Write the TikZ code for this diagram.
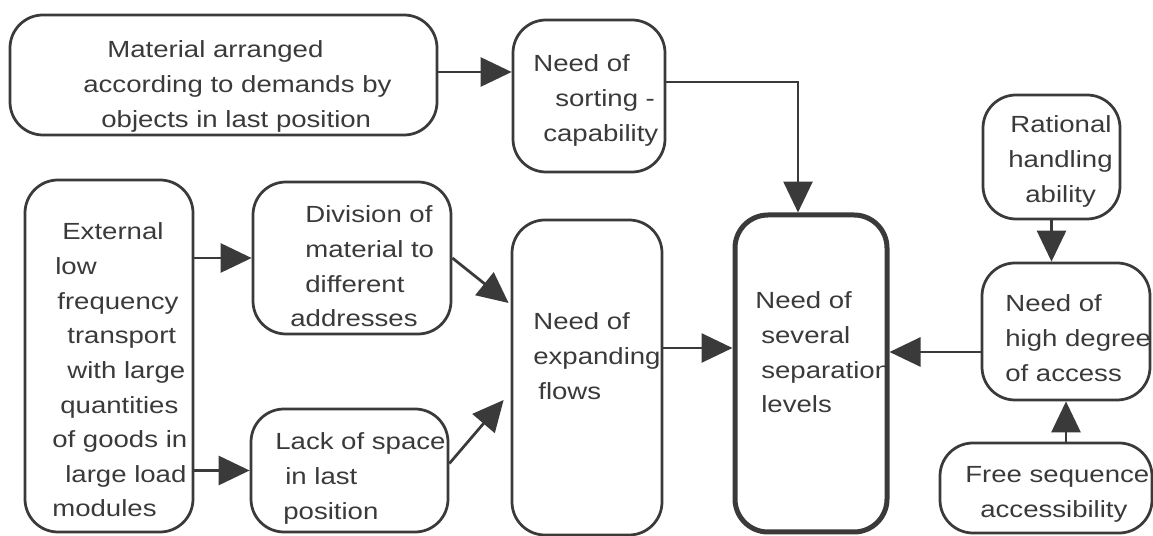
\documentclass[tikz,border=0pt]{standalone}
\usepackage{fontspec}
\setmainfont{Liberation Sans}[FakeStretch=1.18]
\usetikzlibrary{arrows.meta,fit}
\definecolor{ink}{RGB}{58,58,58}
% horizontal indent given in pixel units of the drawing grid
\newcommand{\padpx}[1]{\hspace*{\dimexpr0.02cm*#1\relax}}
\newcommand{\boxlines}[1]{\begin{tabular}[t]{@{}l@{}}#1\end{tabular}}

\begin{document}
\begin{tikzpicture}[x=0.02cm,y=-0.02cm,
  box/.style={draw=ink, line width=0.055cm, rounded corners=0.66cm, inner sep=0pt},
  keybox/.style={box, line width=0.1cm},
  txt/.style={anchor=base west, inner sep=0pt, text=ink,
    font=\fontsize{13.3}{19.7}\selectfont},
  arr/.style={draw=ink, line width=0.055cm,
    -{Triangle[length=0.62cm,width=0.58cm]}}]

\useasboundingbox (0,0) rectangle (1153,536);

% boxes
\node[box, fit={(10,15) (437,135)}]   (A) {};
\node[box, fit={(513,20) (665,172)}]  (B) {};
\node[box, fit={(25,180) (193,532)}]  (C) {};
\node[box, fit={(253,182) (451,334)}] (D) {};
\node[box, fit={(251,409) (448,532)}] (E) {};
\node[box, fit={(512,220) (662,535)}] (F) {};
\node[keybox, fit={(735,215) (887,532)}] (G) {};
\node[box, fit={(983,95) (1120,219)}] (H) {};
\node[box, fit={(982,263) (1150,400)}] (I) {};
\node[box, fit={(940,443) (1152,533)}] (J) {};

% texts
\node[txt] (At) at (83,58) {\boxlines{\padpx{24}Material arranged\\
  according to demands by\\ \padpx{18}objects in last position}};
\node[txt] (Bt) at (533,72) {\boxlines{Need of\\ \padpx{22}sorting -\\
  \padpx{10}capability}};
\node[txt] (Ct) at (52,240) {\boxlines{\padpx{10}External\\ \padpx{3}low\\
  \padpx{5}frequency\\ \padpx{15}transport\\ \padpx{15}with large\\
  \padpx{8}quantities\\ of goods in\\ \padpx{13}large load\\ modules}};
\node[txt] (Dt) at (290,223) {\boxlines{\padpx{15}Division of\\
  \padpx{15}material to\\ \padpx{15}different\\ addresses}};
\node[txt] (Et) at (275,450) {\boxlines{Lack of space\\ \padpx{10}in last\\
  \padpx{8}position}};
\node[txt] (Ft) at (533,330) {\boxlines{Need of\\ expanding\\ \padpx{5}flows}};
\node[txt] (Gt) at (755,309) {\boxlines{Need of\\ \padpx{6}several\\
  \padpx{6}separation\\ \padpx{6}levels}};
\node[txt] (Ht) at (1008,133) {\boxlines{\padpx{2}Rational\\ handling\\
  \padpx{17}ability}};
\node[txt] (It) at (1005,312) {\boxlines{Need of\\ high degree\\ of access}};
\node[txt] (Jt) at (965,483) {\boxlines{Free sequence\\ \padpx{15}accessibility}};

% connectors
\draw[arr] ([yshift=0.06cm]A.east) -- ([yshift=0.06cm]A.east -| B.west);
\draw[arr] ([yshift=0.28cm]B.east) -| ([xshift=-0.26cm]G.north);
\draw[arr] (C.east |- D.west) -- (D.west);
\draw[arr] (C.east |- E.west) -- (E.west);
\draw[arr] (D.east) -- ([shift={(-0.04cm,1.49cm)}]F.west);
\draw[arr] ([yshift=0.14cm]E.east) -- ([shift={(-0.14cm,-0.45cm)}]F.west);
\draw[arr] ([yshift=0.59cm]F.east) coordinate (fg) -- (G.west |- fg);
\draw[arr] ([yshift=-0.41cm]I.west) coordinate (ig) -- (G.east |- ig);
\draw[arr] (H.south) -- (H.south |- I.north);
\draw[arr] (I.south |- J.north) -- (I.south);
\end{tikzpicture}
\end{document}
